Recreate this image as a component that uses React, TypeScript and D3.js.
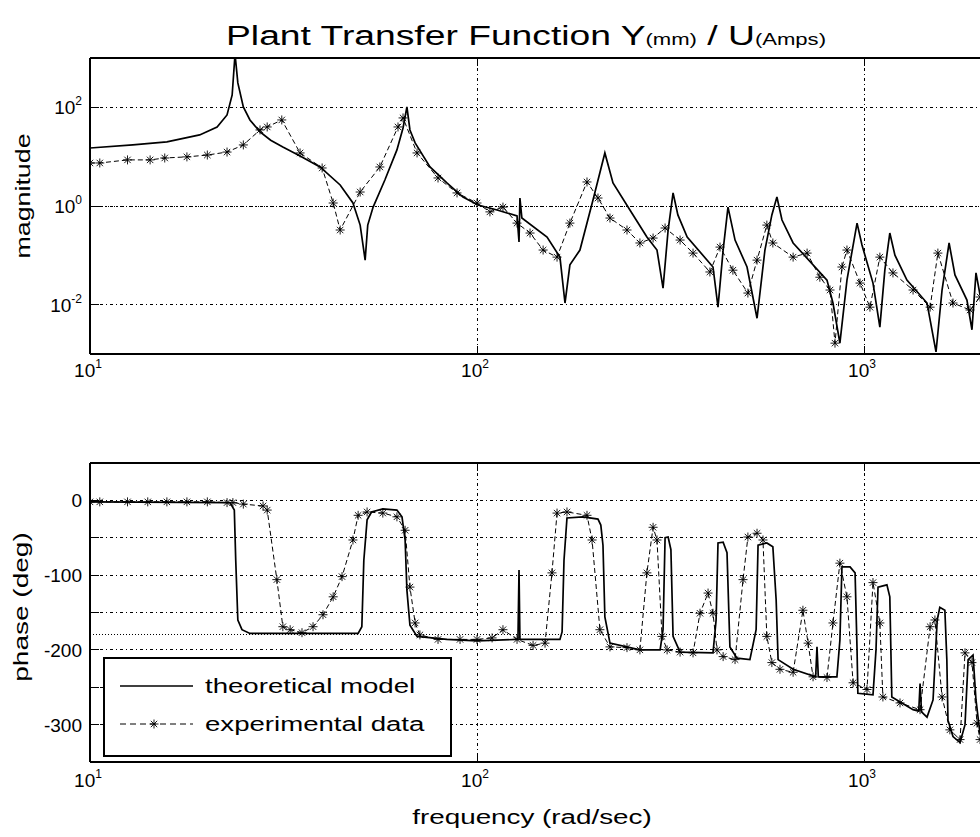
import React from 'react';
import * as d3 from 'd3';

// ---------- data (frequency in rad/sec) ----------
const magTheory: [number, number][] = [
  [10, 15.0], [12.9, 17.3], [15.8, 19.9], [19.2, 27.6], [21.3, 40], [22.6, 70], [23.3, 178], [23.7, 1200],
  [24.1, 313], [24.9, 102], [25.9, 55.5], [27.5, 31.7], [29.3, 21.5], [31.5, 15.7], [35.0, 10.2], [39.3, 6.18],
  [44.3, 2.67], [47.8, 1.15], [49.9, 0.41], [51.4, 0.08], [52.2, 0.41], [53.9, 0.95], [57.8, 3.37], [62.1, 13.7],
  [64.4, 38.2], [65.9, 102], [67.1, 34.8], [69.2, 19.0], [75.6, 6.18], [83.6, 2.93], [92.0, 1.52], [100.6, 1.05],
  [112.7, 0.83], [126.9, 0.63], [128.4, 0.186], [129.1, 1.45], [130.6, 0.57], [151.7, 0.235], [163.8, 0.092],
  [168.8, 0.0108], [173.8, 0.064], [184.5, 0.128], [199.4, 1.32], [214.0, 11.9], [224.6, 2.93], [248.4, 0.83],
  [274.8, 0.235], [291.8, 0.128], [302.5, 0.0217], [311.8, 0.326], [321.1, 1.84], [330.4, 0.66], [349.2, 0.235],
  [407.2, 0.058], [419.5, 0.0089], [432.5, 0.128], [445.2, 0.95], [464.3, 0.204], [498.6, 0.058], [529.2, 0.0053],
  [554.6, 0.128], [578, 0.66], [595.6, 1.52], [613.9, 0.52], [655.9, 0.178], [802.3, 0.0315], [831.4, 0.0108],
  [866.4, 0.00166], [903.6, 0.0315], [959.5, 0.45], [988, 0.162], [1055, 0.0274], [1099, 0.0035], [1132, 0.05],
  [1166, 0.283], [1202, 0.101], [1291, 0.0315], [1455, 0.0108], [1535, 0.0011], [1591, 0.0198], [1659, 0.178],
  [1718, 0.04], [1845, 0.0124], [1901, 0.0031], [1947, 0.044], [1995, 0.0157],
];

const magExperiment: [number, number][] = [
  [10, 7.45], [10.6, 7.45], [12.5, 8.6], [14.3, 8.6], [15.6, 9.4], [17.8, 9.9], [20.1, 10.8], [22.6, 12.4],
  [24.9, 17.3], [27.5, 34.8], [28.7, 40], [31.3, 55.5], [34.9, 11.9], [39.8, 5.9], [42.5, 1.15], [44.3, 0.326],
  [49.9, 1.92], [56.1, 6.18], [62.5, 40], [64.4, 61], [70.0, 11.9], [79.3, 3.7], [88.8, 1.84], [100, 1.15],
  [108, 0.76], [116.7, 0.95], [126.9, 0.45], [137.1, 0.283], [148.2, 0.128], [161.0, 0.092], [173.8, 0.45],
  [192.4, 3.07], [205.4, 1.45], [220.6, 0.57], [244.1, 0.326], [263.6, 0.178], [285.1, 0.224], [306.2, 0.358],
  [334.8, 0.204], [361.6, 0.111], [399.8, 0.046], [424.6, 0.147], [458.4, 0.05], [501.2, 0.0172], [529.2, 0.08],
  [561.0, 0.41], [581.4, 0.178], [655.9, 0.092], [712.8, 0.111], [769.0, 0.036], [817.0, 0.0198], [841.5, 0.00166],
  [877.0, 0.058], [903.6, 0.128], [976.7, 0.0274], [1036, 0.0089], [1099, 0.092], [1188, 0.044], [1339, 0.0198],
  [1482, 0.0089], [1552, 0.111], [1698, 0.0108], [1879, 0.0078], [1995, 0.0143],
];

const phaseTheory: [number, number][] = [
  [10, -2], [23.0, -3], [23.6, -13], [23.8, -80], [24.1, -160], [24.7, -173], [25.9, -178], [49.3, -178],
  [50.4, -169], [51.0, -80], [52.0, -26], [53.4, -15.5], [57.1, -11.5], [62.1, -13], [64.0, -22], [65.2, -53],
  [65.9, -120], [67.1, -167], [70.0, -182], [83.6, -186], [100, -188], [126.9, -186], [127.6, -186], [128.4, -93],
  [129.1, -186], [163.8, -186], [165.9, -176], [167.8, -80], [170.8, -23.5], [187.8, -22], [205.4, -25],
  [208.9, -33], [211.6, -60], [214.0, -156], [220.6, -191], [263.6, -200], [297.3, -200], [302.5, -173],
  [306.2, -50], [311.8, -49], [317.0, -66], [321.1, -182], [334.8, -203], [407.2, -204], [414.8, -160],
  [419.5, -57], [432.5, -56], [442.6, -70], [450.3, -196], [469.7, -211], [507.2, -213], [526.3, -173],
  [532.4, -60], [561.0, -57], [581.4, -62], [592.9, -133], [599.8, -213], [655.9, -226], [750, -236],
  [756, -196], [762, -236], [851.1, -236], [866.4, -187], [877.0, -89], [920.3, -89], [948.3, -97],
  [959.5, -200], [964.1, -258], [1055, -260], [1074, -200], [1087, -116], [1146, -113], [1166, -129],
  [1180, -263], [1339, -280], [1385, -282], [1396, -245], [1408, -283], [1455, -290], [1508, -267],
  [1546, -160], [1570, -143], [1618, -147], [1637, -213], [1648, -294], [1698, -316], [1771, -324],
  [1824, -300], [1858, -213], [1913, -207], [1947, -267], [1995, -313],
];

const phaseExperiment: [number, number][] = [
  [10, -2], [10.6, -2], [12.5, -2], [14.1, -2], [15.8, -2], [17.8, -2], [20.1, -2], [22.6, -3], [23.4, -3],
  [24.9, -5], [28.0, -7.5], [28.7, -13], [30.4, -106], [31.5, -169], [32.9, -173], [35.3, -177], [37.7, -169],
  [40.0, -153], [42.5, -129], [44.8, -102], [47.8, -53], [49.3, -20], [52.0, -15.5], [57.1, -17], [62.1, -22],
  [65.2, -40], [67.1, -116], [69.2, -164], [71.2, -180], [79.3, -186], [90.4, -186], [100, -186], [109.4, -184],
  [116.7, -173], [126.9, -186], [139.6, -194], [149.9, -191], [156.2, -97], [161.0, -17], [170.8, -15.5],
  [192.4, -20], [198.3, -53], [207.8, -173], [220.6, -196], [244.1, -197], [263.6, -200], [274.8, -97],
  [285.1, -36], [291.8, -53], [300.7, -182], [309.9, -200], [334.8, -203], [361.6, -204], [376.9, -151],
  [395.4, -124], [407.2, -151], [417.0, -200], [432.5, -209], [464.3, -213], [486.9, -106], [501.2, -49],
  [529.2, -44], [548.2, -53], [561.0, -182], [578.0, -217], [606.6, -226], [655.9, -230], [695.3, -147],
  [716.9, -191], [738.5, -236], [802.3, -237], [831.4, -164], [866.4, -84], [903.6, -129], [937.2, -244],
  [1018, -253], [1055, -110], [1099, -164], [1119, -263], [1239, -271], [1396, -280], [1482, -169],
  [1525, -160], [1591, -263], [1667, -307], [1771, -320], [1824, -204], [1901, -217], [1959, -298], [1995, -320],
];

const freqTicks = [10, 100, 1000];
const freqTickExp = ['1', '2', '3'];
const magTicks = [100, 1, 0.01];
const magTickExp = ['2', '0', '-2'];
const phaseTicks = [0, -50, -100, -150, -200, -250, -300];
const phaseLabels = [0, -100, -200, -300];

// ---------- layout ----------
const W = 980;
const H = 837;
const X0 = 90;
const X1 = 980.5;
const TOP = { t: 58, b: 354 };
const BOT = { t: 463, b: 762 };
const FONT = '"Liberation Sans", Arial, Helvetica, sans-serif';
const GRID_DASH = '3,3,1,3';

const star = 'M-4.5,0H4.5M0,-4.5V4.5M-3.2,-3.2L3.2,3.2M-3.2,3.2L3.2,-3.2';

export default function App() {
  const x = d3.scaleLog().domain([10, 2000]).range([X0, X1]);
  const yM = d3.scaleLog().domain([1e-3, 1e3]).range([TOP.b, TOP.t]);
  const yP = d3.scaleLinear().domain([-350, 50]).range([BOT.b, BOT.t]);

  const lineM = d3.line<[number, number]>().x((d) => x(d[0])).y((d) => yM(d[1]));
  const lineP = d3.line<[number, number]>().x((d) => x(d[0])).y((d) => yP(d[1]));

  const frame = (t: number, b: number) => (
    <g shapeRendering="crispEdges" stroke="#000" fill="none">
      <line x1={X0} x2={W} y1={t} y2={t} strokeWidth={1.5} />
      <line x1={X0} x2={W} y1={b} y2={b} strokeWidth={1.5} />
      <line x1={X0} x2={X0} y1={t} y2={b} strokeWidth={1.5} />
    </g>
  );

  const vGrid = (t: number, b: number) => (
    <g shapeRendering="crispEdges" stroke="#000" strokeWidth={1}>
      {freqTicks.slice(1).map((f) => (
        <g key={f}>
          <line x1={x(f)} x2={x(f)} y1={t} y2={b} strokeDasharray={GRID_DASH} />
          <line x1={x(f)} x2={x(f)} y1={t} y2={t + 8} />
          <line x1={x(f)} x2={x(f)} y1={b} y2={b - 8} />
        </g>
      ))}
    </g>
  );

  const xLabels = (base: number) => (
    <g fontFamily={FONT} fontSize={19} fill="#000">
      {freqTicks.map((f, i) => (
        <text key={f} x={x(f) - 2} y={base} textAnchor="middle">
          10<tspan dy={-9} fontSize={12}>{freqTickExp[i]}</tspan>
        </text>
      ))}
    </g>
  );

  return (
    <svg
      width={W}
      height={H}
      viewBox={`0 0 ${W} ${H}`}
      style={{ position: 'absolute', left: 0, top: 0, background: '#fff' }}
    >
      <defs>
        <clipPath id="clipTop">
          <rect x={X0} y={TOP.t} width={X1 - X0} height={TOP.b - TOP.t} />
        </clipPath>
        <clipPath id="clipBot">
          <rect x={X0} y={BOT.t} width={X1 - X0} height={BOT.b - BOT.t} />
        </clipPath>
      </defs>
      <rect x={0} y={0} width={W} height={H} fill="#fff" />

      {/* Title */}
      <g transform={`translate(526,45) scale(1.38,1)`} fontFamily={FONT} fill="#000">
        <text x={0} y={0} textAnchor="middle" fontSize={27}>
          Plant Transfer Function Y<tspan fontSize={16}>(mm)</tspan> / U<tspan fontSize={16}>(Amps)</tspan>
        </text>
      </g>

      {/* ---------- Magnitude panel ---------- */}
      <g shapeRendering="crispEdges" stroke="#000" strokeWidth={1}>
        {magTicks.map((m) => (
          <g key={m}>
            <line x1={X0} x2={W} y1={yM(m)} y2={yM(m)} strokeDasharray={GRID_DASH} />
            <line x1={X0} x2={X0 + 9} y1={yM(m)} y2={yM(m)} />
          </g>
        ))}
        <line x1={X0} x2={W} y1={yM(1)} y2={yM(1)} strokeDasharray="1,2" />
      </g>
      {vGrid(TOP.t, TOP.b)}
      <g clipPath="url(#clipTop)" fill="none" stroke="#000">
        <path d={lineM(magExperiment) || ''} strokeWidth={1} strokeDasharray="5,3" />
        {magExperiment.map((d, i) => (
          <path key={i} d={star} transform={`translate(${x(d[0])},${yM(d[1])})`} strokeWidth={0.9} />
        ))}
        <path d={lineM(magTheory) || ''} strokeWidth={1.7} />
      </g>
      {frame(TOP.t, TOP.b)}
      <g fontFamily={FONT} fontSize={19} fill="#000">
        {magTicks.map((m, i) => (
          <text key={m} x={82} y={yM(m) + 7} textAnchor="end">
            10<tspan dy={-9} fontSize={12}>{magTickExp[i]}</tspan>
          </text>
        ))}
      </g>
      {xLabels(377)}
      <g transform="translate(29.5,196) rotate(-90) scale(1.34,1)" fontFamily={FONT} fill="#000">
        <text x={0} y={0} textAnchor="middle" fontSize={20}>magnitude</text>
      </g>

      {/* ---------- Phase panel ---------- */}
      <g shapeRendering="crispEdges" stroke="#000" strokeWidth={1}>
        {phaseTicks.map((p) => (
          <g key={p}>
            <line x1={X0} x2={W} y1={yP(p)} y2={yP(p)} strokeDasharray={GRID_DASH} />
            <line x1={X0} x2={X0 + 9} y1={yP(p)} y2={yP(p)} />
          </g>
        ))}
        <line x1={X0} x2={W} y1={yP(-180)} y2={yP(-180)} strokeDasharray="1,2" />
      </g>
      {vGrid(BOT.t, BOT.b)}
      <g clipPath="url(#clipBot)" fill="none" stroke="#000">
        <path d={lineP(phaseExperiment) || ''} strokeWidth={1} strokeDasharray="5,3" />
        {phaseExperiment.map((d, i) => (
          <path key={i} d={star} transform={`translate(${x(d[0])},${yP(d[1])})`} strokeWidth={0.9} />
        ))}
        <path d={lineP(phaseTheory) || ''} strokeWidth={1.7} />
      </g>
      {frame(BOT.t, BOT.b)}
      <g fontFamily={FONT} fontSize={19} fill="#000">
        {phaseLabels.map((p) => (
          <text key={p} x={82} y={yP(p) + 7} textAnchor="end">{p}</text>
        ))}
      </g>
      {xLabels(787)}
      <g transform="translate(28,607) rotate(-90) scale(1.4,1)" fontFamily={FONT} fill="#000">
        <text x={0} y={0} textAnchor="middle" fontSize={20}>phase (deg)</text>
      </g>

      {/* Legend */}
      <g>
        <rect x={104} y={658} width={347} height={98} fill="#fff" stroke="#000" strokeWidth={1.2} shapeRendering="crispEdges" />
        <line x1={120} x2={193} y1={686} y2={686} stroke="#000" strokeWidth={1.7} />
        <line x1={120} x2={193} y1={724} y2={724} stroke="#000" strokeWidth={1} strokeDasharray="6,4" />
        <path d={star} transform="translate(154,724)" stroke="#000" strokeWidth={0.9} fill="none" />
        <g transform="translate(205,693) scale(1.38,1)" fontFamily={FONT} fill="#000">
          <text x={0} y={0} fontSize={20}>theoretical model</text>
        </g>
        <g transform="translate(205,731) scale(1.38,1)" fontFamily={FONT} fill="#000">
          <text x={0} y={0} fontSize={20}>experimental data</text>
        </g>
      </g>

      {/* x label */}
      <g transform="translate(532,824) scale(1.39,1)" fontFamily={FONT} fill="#000">
        <text x={0} y={0} textAnchor="middle" fontSize={20}>frequency (rad/sec)</text>
      </g>
    </svg>
  );
}
